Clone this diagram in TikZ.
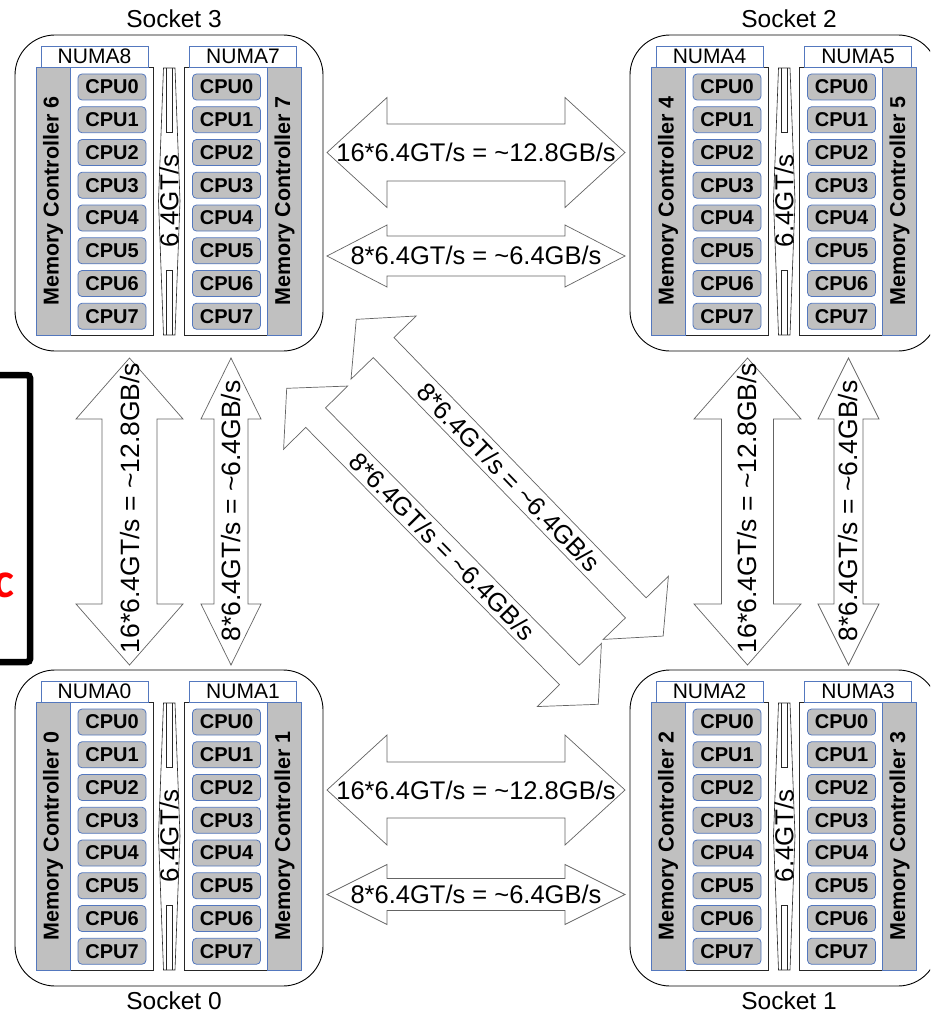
\documentclass[tikz,border=0pt]{standalone}
\usepackage{fontspec}
\setmainfont{Liberation Sans}
\newfontfamily\cfont{Carlito}
\definecolor{mcgray}{RGB}{192,192,192}
\definecolor{bblue}{RGB}{84,120,190}
\definecolor{arrowgray}{RGB}{100,100,100}
\tikzset{
 socketbox/.style={draw=black, line width=0.9pt, rounded corners=40pt, minimum width=308pt, minimum height=316pt, inner sep=0pt, fill=white},
 numalabel/.style={draw=bblue, line width=0.8pt, fill=white, minimum width=107pt, minimum height=21pt, inner sep=0pt, font=\fontsize{21}{22}\selectfont},
 mcbar/.style={draw=bblue, line width=0.8pt, fill=mcgray, minimum width=34pt, minimum height=268pt, inner sep=0pt},
 mctext/.style={font=\bfseries\fontsize{21.5}{24}\selectfont, inner sep=0pt},
 panel/.style={draw=black!85, line width=0.7pt, fill=white, minimum width=83pt, minimum height=268pt, inner sep=0pt},
 cpu/.style={draw=bblue, line width=0.8pt, fill=mcgray, rounded corners=4pt, minimum width=68pt, minimum height=26pt, inner sep=0pt, font=\bfseries\fontsize{20}{22}\selectfont},
 arrowline/.style={draw=arrowgray, line width=0.7pt, fill=white, line join=miter},
 linkline/.style={draw=black!85, line width=0.6pt},
 linktext/.style={font=\fontsize{25.5}{28}\selectfont, inner sep=0pt},
 vlinktext/.style={font=\fontsize{26.5}{28}\selectfont, inner sep=0pt, rotate=90},
 smalllink/.style={font=\fontsize{26}{28}\selectfont, inner sep=0pt, rotate=90},
 sockettext/.style={font=\fontsize{24.5}{28}\selectfont, inner sep=0pt},
}
% #1 x, #2 y, #3 name, #4 label, #5 label y-offset, #6 NUMA left, #7 NUMA right, #8 MC left no, #9 MC right no
\newcommand{\drawsocket}[9]{%
\begin{scope}[shift={(#1,#2)}]
\node[socketbox] (#3) at (154,158) {};
\node[sockettext] (#3-label) at (159,#5) {#4};
\node[panel] (#3-pl) at (96.5,166) {};
\node[mcbar] (#3-mcl) at (38,166) {};
\node[mctext,rotate=90] (#3-mclt) at (38,166) {Memory Controller #8};
\node[numalabel] (#3-nl) at (79.5,21.5) {#6};
\foreach \i in {0,...,7} {\node[cpu] (#3-l\i) at (97,{52+32.75*\i}) {CPU\i};}
\node[panel] (#3-pr) at (210.5,166) {};
\node[mcbar] (#3-mcr) at (269.5,166) {};
\node[mctext,rotate=90] (#3-mcrt) at (269.5,166) {Memory Controller #9};
\node[numalabel] (#3-nr) at (228,21.5) {#7};
\foreach \i in {0,...,7} {\node[cpu] (#3-r\i) at (211.5,{52+32.75*\i}) {CPU\i};}
\draw[linkline] (148.5,33) -- (143.5,166) -- (148.5,300) -- (160,300) -- (165,166) -- (160,33) -- cycle;
\draw[linkline] (151,33) -- (151,97) -- (157.5,97) -- (157.5,33);
\draw[linkline] (151,300) -- (151,235) -- (157.5,235) -- (157.5,300);
\node[smalllink] (#3-link) at (154,166) {6.4GT/s};
\end{scope}}
% #1 cx, #2 cy, #3 angle, #4 half length, #5 head length, #6 head half width, #7 shaft half width
\newcommand{\blockarrow}[7]{%
\begin{scope}[shift={(#1,#2)},rotate=#3]
\draw[arrowline] ({-#4},0) -- ({-#4+#5},{#6}) -- ({-#4+#5},{#7}) -- ({#4-#5},{#7}) -- ({#4-#5},{#6}) -- ({#4},0)
  -- ({#4-#5},{-#6}) -- ({#4-#5},{-#7}) -- ({-#4+#5},{-#7}) -- ({-#4+#5},{-#6}) -- cycle;
\end{scope}}
\begin{document}
\begin{tikzpicture}[x=1pt,y=-1pt]
\useasboundingbox (0,0) rectangle (930,1014);
\clip (0,0) rectangle (930,1014);
\fill[white] (0,0) rectangle (930,1014);

% sockets
\drawsocket{15}{35}{s3}{Socket 3}{-16}{NUMA8}{NUMA7}{6}{7}
\drawsocket{630}{35}{s2}{Socket 2}{-16}{NUMA4}{NUMA5}{4}{5}
\drawsocket{15}{670}{s0}{Socket 0}{331}{NUMA0}{NUMA1}{0}{1}
\drawsocket{630}{670}{s1}{Socket 1}{331}{NUMA2}{NUMA3}{2}{3}

% horizontal links
\blockarrow{476}{152.5}{0}{149}{60}{55}{28.5}
\node[linktext] (h32big) at (476,152.5) {16*6.4GT/s = \textasciitilde 12.8GB/s};
\blockarrow{476}{256}{0}{149}{60}{31}{20}
\node[linktext] (h32small) at (476,255) {8*6.4GT/s = \textasciitilde 6.4GB/s};
\blockarrow{476}{790}{0}{149}{60}{55}{28}
\node[linktext] (h01big) at (476,790) {16*6.4GT/s = \textasciitilde 12.8GB/s};
\blockarrow{476}{894.5}{0}{149}{60}{30}{16}
\node[linktext] (h01small) at (476,894) {8*6.4GT/s = \textasciitilde 6.4GB/s};

% vertical links
\blockarrow{129.5}{511.5}{90}{153.5}{61}{53.5}{27.5}
\node[vlinktext] (v30big) at (130,508) {16*6.4GT/s = \textasciitilde 12.8GB/s};
\blockarrow{231}{511.5}{90}{153.5}{61}{30}{17}
\node[vlinktext] (v30small) at (231,511) {8*6.4GT/s = \textasciitilde 6.4GB/s};
\blockarrow{747.5}{511.5}{90}{153.5}{61}{53.5}{26}
\node[vlinktext] (v21big) at (747.5,508) {16*6.4GT/s = \textasciitilde 12.8GB/s};
\blockarrow{848.5}{511.5}{90}{153.5}{61}{30.5}{14.5}
\node[vlinktext] (v21small) at (848.5,511) {8*6.4GT/s = \textasciitilde 6.4GB/s};

% diagonal links
\blockarrow{509.7}{477.7}{-45.9}{220.5}{39.3}{45.4}{14.4}
\node[linktext,rotate=-45.9] (d31) at (509,477.5) {8*6.4GT/s = \textasciitilde 6.4GB/s};
\blockarrow{442.5}{546.3}{-45.4}{221.9}{41.2}{45}{13.9}
\node[linktext,rotate=-45.4] (d20) at (442.5,546.5) {8*6.4GT/s = \textasciitilde 6.4GB/s};

% left black frame with red letter
\draw[line width=6.5pt, rounded corners=3pt] (-8,375) -- (30,375) -- (30,662) -- (-8,662);
\node[anchor=base east, inner sep=0pt, text=red, font=\cfont\bfseries\fontsize{50}{52}\selectfont] (redc) at (15,597) {c};
\end{tikzpicture}
\end{document}
